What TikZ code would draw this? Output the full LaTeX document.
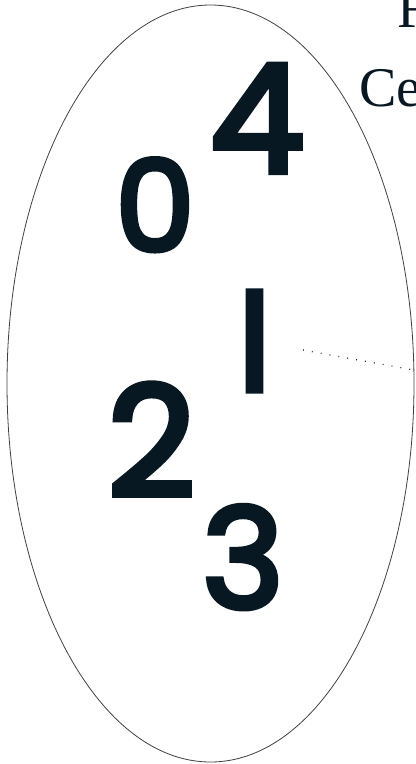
\documentclass[tikz,border=0pt]{standalone}
\usepackage{fontspec}
\newfontfamily\digitfont{Poppins}[FakeBold=4]
\newfontfamily\labelfont{Liberation Serif}
\definecolor{ink}{RGB}{8,24,34}
\tikzset{
    digit/.style={inner sep=0pt, anchor=base, text=ink, font=\digitfont},
    label/.style={inner sep=0pt, anchor=base west, text=ink, font=\labelfont\fontsize{56bp}{56bp}\selectfont},
    leader/.style={line width=1.3bp, dash pattern=on 0.8bp off 8.2bp, ink}
}
\begin{document}
\begin{tikzpicture}[x=1bp, y=-1bp]
    \useasboundingbox (0,0) rectangle (415,764);

    \draw[line width=0.8bp, black!75] (210.5,383.5) ellipse [x radius=203.5, y radius=378.5];

    \node[label] (F) at (397,28){F};
    \node[label] (Ce) at (359,106){Ce};

    \node[digit] (four) at (257,172){\fontsize{150bp}{150bp}\selectfont 4};
    \node[digit] (zero) at (155,251){\fontsize{126bp}{126bp}\selectfont 0};
    \node[digit] (one) at (254.5,391){\fontsize{135bp}{135bp}\selectfont l};
    \node[digit] (two) at (151.5,496){\fontsize{153bp}{153bp}\selectfont 2};
    \node[digit] (three) at (243,608){\fontsize{139bp}{139bp}\selectfont 3};

    \coordinate (tip) at (303,350);
    \coordinate (rim) at (414,370);
    \draw[leader] (tip) -- (rim);
\end{tikzpicture}
\end{document}
